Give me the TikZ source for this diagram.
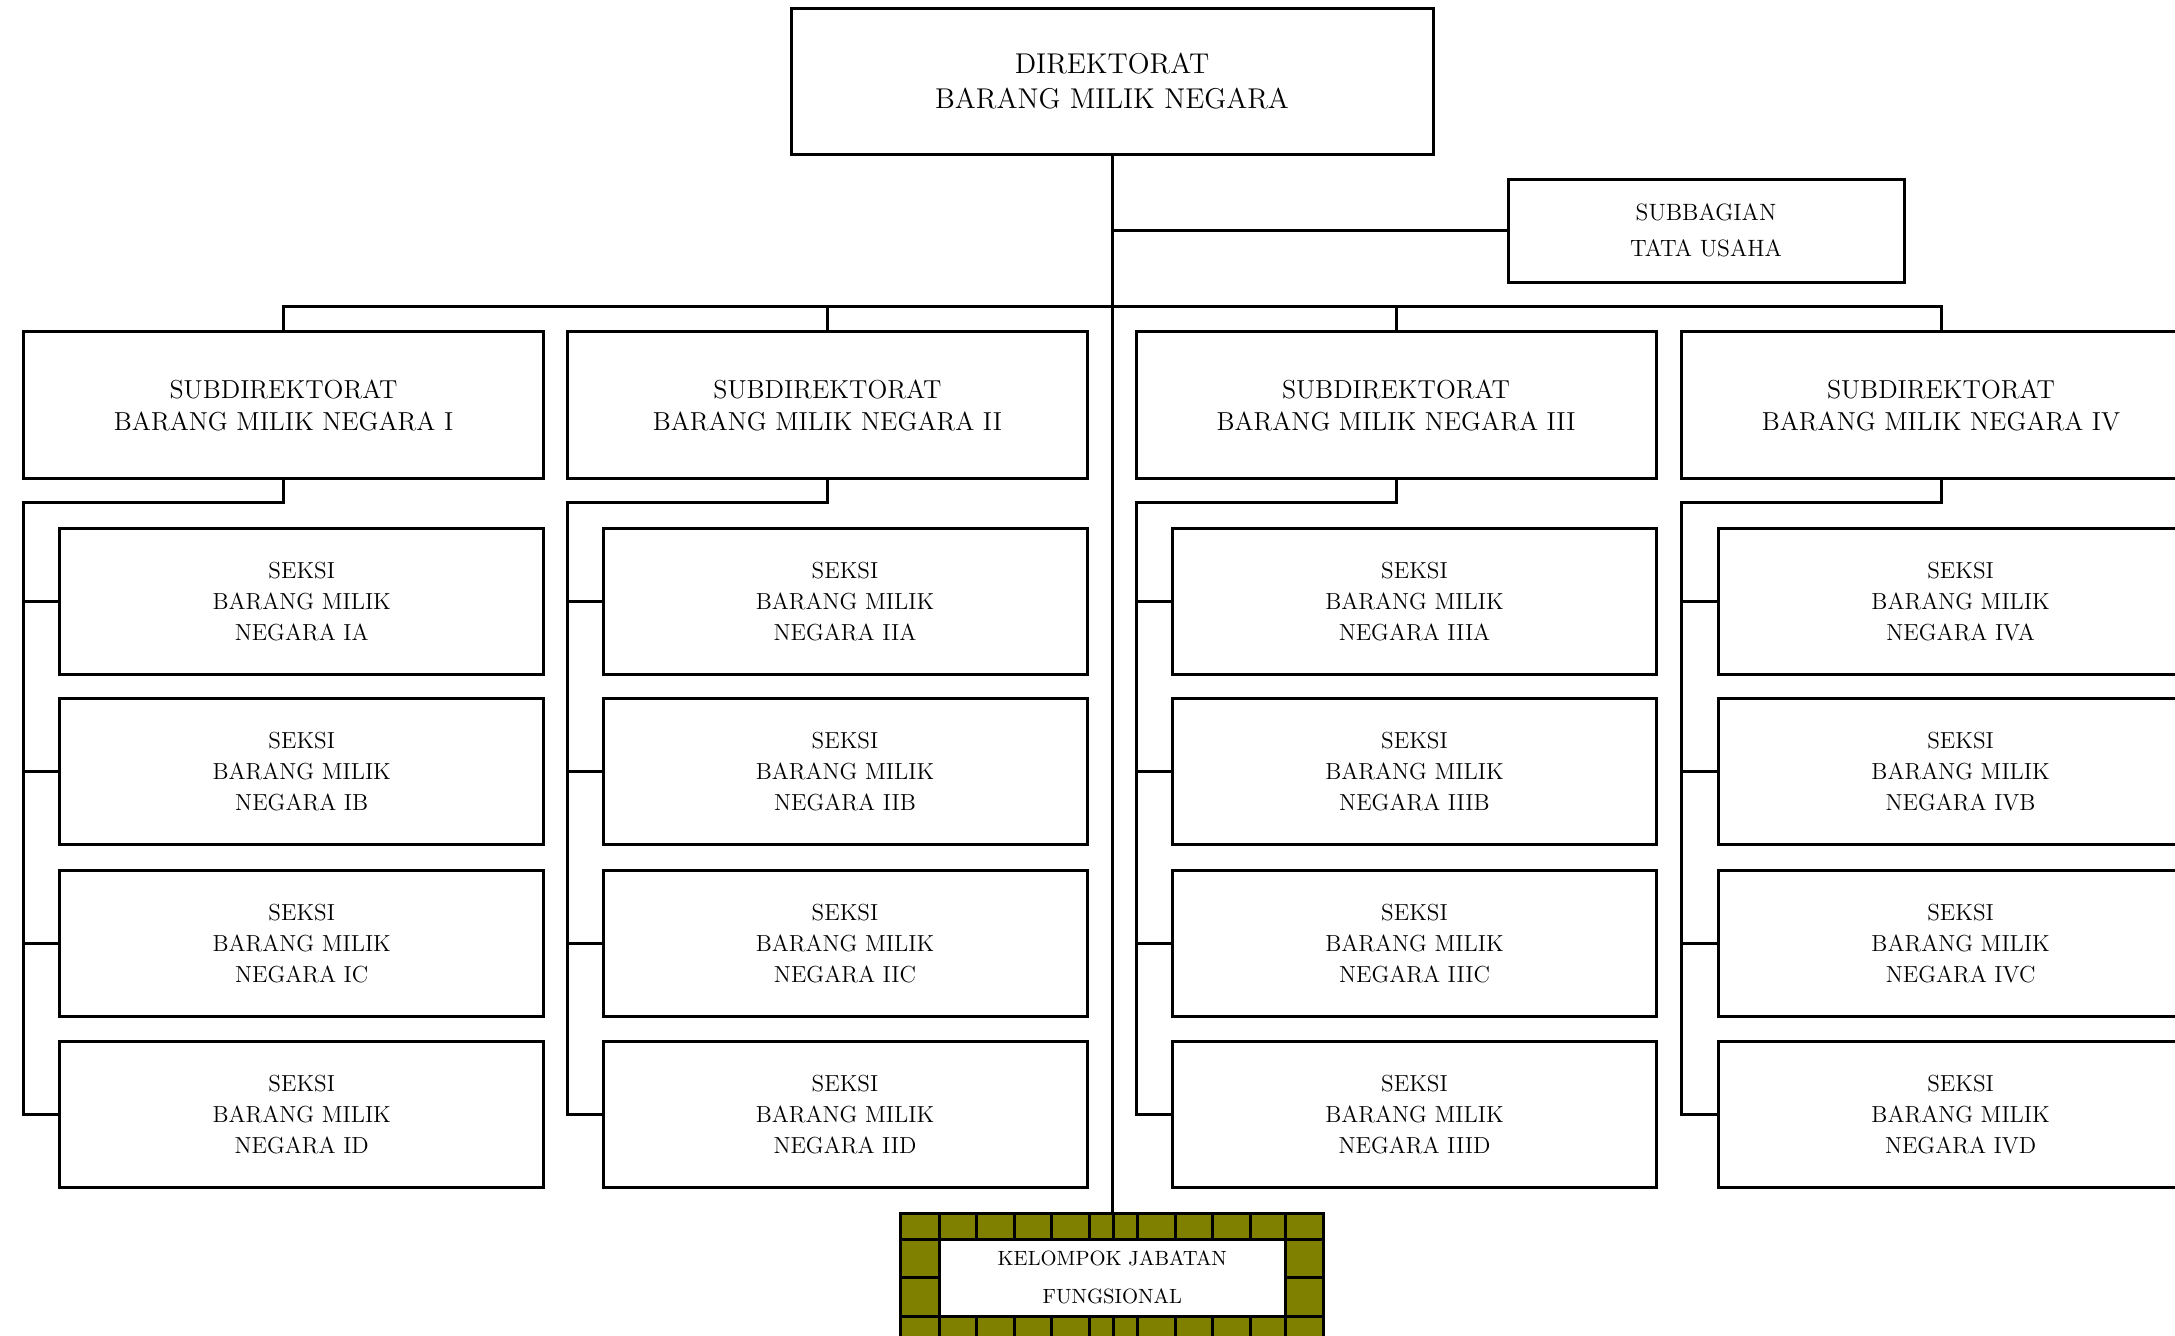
\documentclass[tikz,border=0pt]{standalone}
\definecolor{olivebg}{HTML}{808000}
\begin{document}
\begin{tikzpicture}[x=0.5pt,y=-0.5pt, line width=1.5pt,
  box/.style={draw, line width=1.5pt, inner sep=0pt, outer sep=0pt, align=center, anchor=center, fill=white},
  topbox/.style={box, minimum width=321pt, minimum height=73pt, font=\fontsize{14.3}{17.4}\selectfont},
  tubox/.style={box, minimum width=198pt, minimum height=51.5pt, font=\fontsize{11.8}{18}\selectfont},
  subbox/.style={box, minimum width=260pt, minimum height=73.5pt, font=\fontsize{13}{16}\selectfont},
  seksibox/.style={box, minimum width=242pt, minimum height=73pt, font=\fontsize{11.6}{15.5}\selectfont},
  kelbox/.style={box, fill=olivebg, minimum width=211.3pt, minimum height=64.5pt},
  kelin/.style={box, minimum width=173pt, minimum height=38.5pt, font=\fontsize{10.3}{19}\selectfont}
]
\useasboundingbox (0,0) rectangle (2175,1335);
\clip (0,0) rectangle (2175,1335);

% top
\node[topbox] (top) at (1112,81) {DIREKTORAT\\BARANG MILIK NEGARA};
\node[tubox] (tu) at (1706,230.5) {SUBBAGIAN\\TATA USAHA};

% subdirektorat and seksi
\foreach \i/\r/\sx/\kx in {1/I/283.6/301.7, 2/II/827.4/845, 3/III/1396/1414.5, 4/IV/1941/1960.6}{
  \node[subbox] (s\i) at (\sx,405) {SUBDIREKTORAT\\BARANG MILIK NEGARA \r};
  \foreach \l/\ky in {A/601.3, B/771.9, C/943.9, D/1114.5}{
    \node[seksibox] (k\i-\l) at (\kx,\ky) {SEKSI\\BARANG MILIK\\NEGARA \r\l};
  }
}

% kelompok jabatan fungsional
\node[kelbox] (kel) at (1112,1277.5) {};
\node[kelin] (kin) at (1112.3,1277.5) {KELOMPOK JABATAN\\FUNGSIONAL};
\foreach \x in {976.7, 1014, 1051.7, 1089, 1113.3, 1137.7, 1175, 1212.3, 1250}{
  \draw (\x,1213) -- (\x,1239);
  \draw (\x,1316) -- (\x,1342);
}
\draw (kel.west |- kin.north) -- (kel.east |- kin.north);
\draw (kel.west |- kin.south) -- (kel.east |- kin.south);
\draw (kin.north west) -- (kin.north west |- kel.north);
\draw (kin.south west) -- (kin.south west |- kel.south);
\draw (kin.north east) -- (kin.north east |- kel.north);
\draw (kin.south east) -- (kin.south east |- kel.south);
\draw (kel.west) -- (kin.west);
\draw (kin.east) -- (kel.east);

% connectors
\coordinate (busy) at (0,306.5);
\draw (top.south) -- (kel.north);
\draw (top.south |- tu.west) -- (tu.west);
\draw (s1.north) -- (s1.north |- busy) -- (s4.north |- busy) -- (s4.north);
\draw (s2.north) -- (s2.north |- busy);
\draw (s3.north) -- (s3.north |- busy);
\foreach \i in {1,2,3,4}{
  \draw (s\i.south) -- ++(0,24) -| (s\i.west |- k\i-D.west) -- (k\i-D.west);
  \foreach \l in {A,B,C}{
    \draw (s\i.west |- k\i-\l.west) -- (k\i-\l.west);
  }
}
\end{tikzpicture}
\end{document}
